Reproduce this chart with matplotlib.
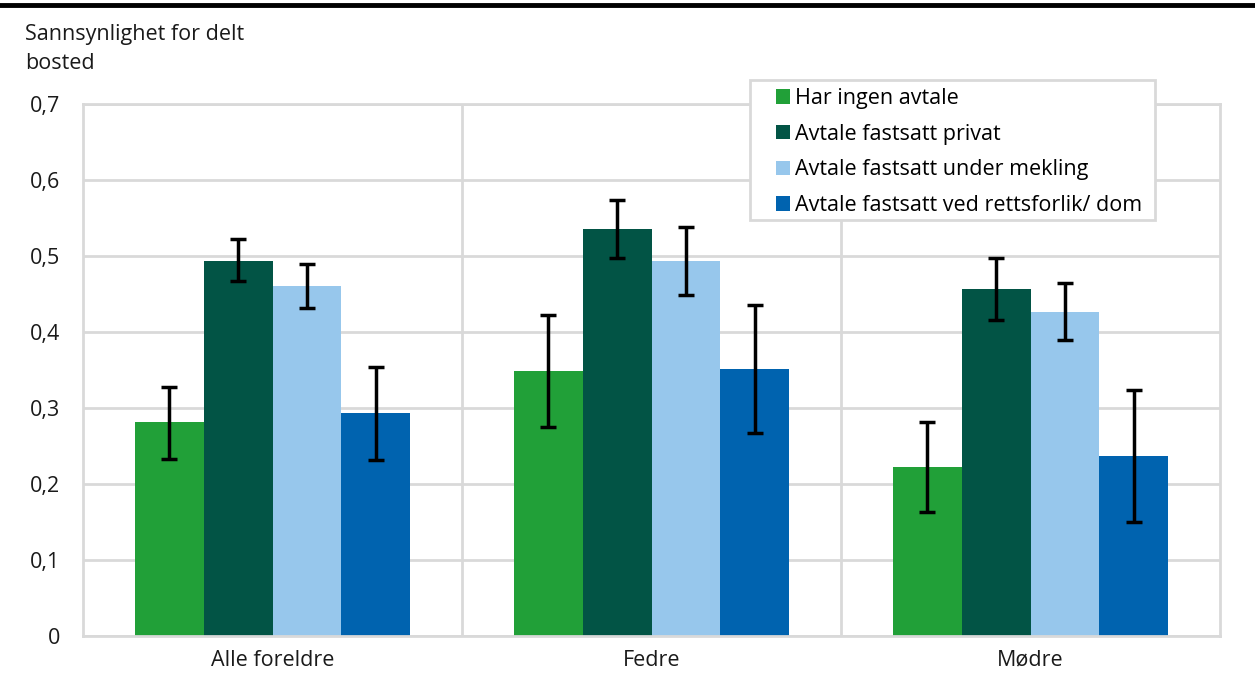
import matplotlib
import matplotlib.pyplot as plt
from matplotlib.lines import Line2D
from matplotlib.patches import Rectangle
from matplotlib.ticker import FuncFormatter
import numpy as np

plt.rcParams['font.family'] = ['Open Sans', 'DejaVu Sans']

groups = ['Alle foreldre', 'Fedre', 'Mødre']
series = ['Har ingen avtale', 'Avtale fastsatt privat',
          'Avtale fastsatt under mekling', 'Avtale fastsatt ved rettsforlik/ dom']
colors = ['#21a038', '#025445', '#97c7ec', '#0063af']

# estimates and confidence interval bounds, one row per series
values = [[0.281, 0.349, 0.222],
          [0.494, 0.536, 0.456],
          [0.461, 0.493, 0.426],
          [0.293, 0.351, 0.237]]
ci_low = [[0.233, 0.275, 0.163],
          [0.467, 0.497, 0.416],
          [0.432, 0.449, 0.389],
          [0.232, 0.267, 0.150]]
ci_high = [[0.328, 0.423, 0.282],
           [0.522, 0.574, 0.498],
           [0.490, 0.538, 0.464],
           [0.354, 0.436, 0.324]]

W, H = 1255, 675
fig = plt.figure(figsize=(W/100, H/100), dpi=100)
ax = fig.add_axes([83/W, 1-636/H, (1220-83)/W, (636-104)/H])

x = np.arange(len(groups))
w = 0.182
for i, name in enumerate(series):
    v = np.array(values[i])
    lo = v - np.array(ci_low[i])
    hi = np.array(ci_high[i]) - v
    ax.bar(x + (i - 1.5) * w, v, w, color=colors[i], label=name, zorder=2)
    ax.errorbar(x + (i - 1.5) * w, v, yerr=[lo, hi], fmt='none', ecolor='black',
                elinewidth=2.5, capsize=6, capthick=2.5, zorder=3)

ax.set_xlim(-0.5, 2.5)
ax.set_ylim(0, 0.7)
ax.set_yticks(np.arange(0, 0.71, 0.1))
ax.yaxis.set_major_formatter(FuncFormatter(lambda v, p: '0' if v == 0 else f'{v:.1f}'.replace('.', ',')))
ax.set_xticks(x)
ax.set_xticklabels(groups)
ax.tick_params(length=0, labelsize=15.5, colors='#1a1a1a')
ax.tick_params(axis='y', pad=16.5)
ax.tick_params(axis='x', pad=10)

ax.grid(axis='y', color='#d9d9d9', linewidth=2, zorder=0)
for xv in [0.5, 1.5]:
    ax.axvline(xv, color='#d9d9d9', linewidth=2, zorder=0)
for s in ax.spines.values():
    s.set_color('#d9d9d9')
    s.set_linewidth(2)

fig.text(25/W, 1-49/H, 'Sannsynlighet for delt\nbosted', fontsize=15.5,
         va='center', ha='left', linespacing=1.5, color='#1a1a1a')

fig.add_artist(Line2D([0, 1], [1-5/H, 1-5/H], color='black', linewidth=3.5))

# legend box drawn separately so padding matches the original
ax.add_patch(Rectangle((750/W, 1-220/H), (1155-750)/W, 140/H, transform=fig.transFigure,
                       facecolor='white', edgecolor='#d9d9d9', linewidth=2,
                       zorder=4, clip_on=False))
leg = ax.legend(loc='upper left', bbox_to_anchor=(776/W, 1-88/H),
                bbox_transform=fig.transFigure, fontsize=15.5, frameon=False,
                handlelength=0.65, handleheight=0.65, handletextpad=0.25,
                labelspacing=0.68, borderpad=0, borderaxespad=0)
leg.set_zorder(5)

fig.savefig('out.png', dpi=100)
